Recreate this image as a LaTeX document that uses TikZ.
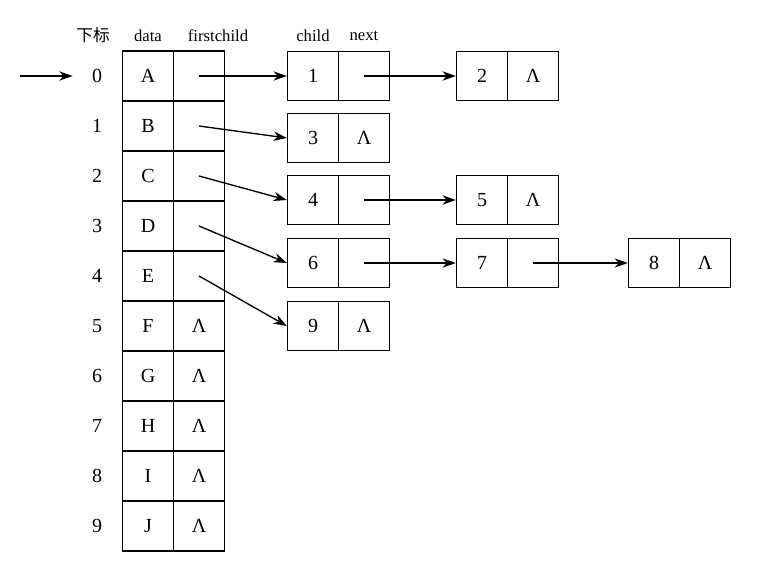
\documentclass[tikz,border=0pt]{standalone}
\usepackage{fontspec}
\setmainfont{Liberation Serif}
\newfontfamily\cjk{Noto Sans CJK SC}
\usetikzlibrary{arrows.meta}

\tikzset{
  cell/.style={draw, line width=1pt, inner sep=0pt, minimum width=38.25pt, minimum height=37.5pt, font=\fontsize{15}{15}\selectfont},
  lcell/.style={cell, minimum height=36.75pt},
  idx/.style={font=\fontsize{15}{15}\selectfont},
  head/.style={font=\fontsize{12.5}{13}\selectfont},
  link/.style={->, line width=1pt},
}

\begin{document}
\begin{tikzpicture}[x=0.75pt, y=-0.75pt, >={Stealth[length=10pt,width=7pt]}]
  \useasboundingbox (0,0) rectangle (778,563);

  % column heads
  \node[head] (hidx) at (93,35) {\cjk 下标};
  \node[head] (hdata) at (148,36) {data};
  \node[head] (hfirst) at (218,36) {firstchild};
  \node[head] (hchild) at (313,36) {child};
  \node[head] (hnext) at (364,36) {next};

  % node table
  \foreach \i/\d in {0/A,1/B,2/C,3/D,4/E,5/F,6/G,7/H,8/I,9/J} {
    \node[idx] (i\i) at (97,{76+50*\i}) {\i};
    \node[cell] (d\i) at (148,{76+50*\i}) {\d};
    \node[cell] (f\i) at (199,{76+50*\i}) {\ifnum\i>4 Λ\fi};
  }

  % child lists
  \foreach \n/\x/\y/\l in {1/313/76/0,2/482/76/1,3/313/138/1,4/313/200/0,5/482/200/1,
                           6/313/263/0,7/482/263/0,8/654/263/1,9/313/326/1} {
    \node[lcell] (c\n) at (\x,\y) {\n};
    \node[lcell] (n\n) at ({\x+51},\y) {\ifnum\l=1 Λ\fi};
  }

  % pointers
  \coordinate (src) at (20,76);
  \draw[link, shorten >=11pt] (src) -- (i0);
  \draw[link] (f0.center) -- (c1.west);
  \draw[link] (f1.center) -- (c3.west);
  \draw[link] (f2.center) -- (c4.west);
  \draw[link] (f3.center) -- (c6.west);
  \draw[link] (f4.center) -- (c9.west);
  \draw[link] (n1.center) -- (c2.west);
  \draw[link] (n4.center) -- (c5.west);
  \draw[link] (n6.center) -- (c7.west);
  \draw[link] (n7.center) -- (c8.west);
\end{tikzpicture}
\end{document}
